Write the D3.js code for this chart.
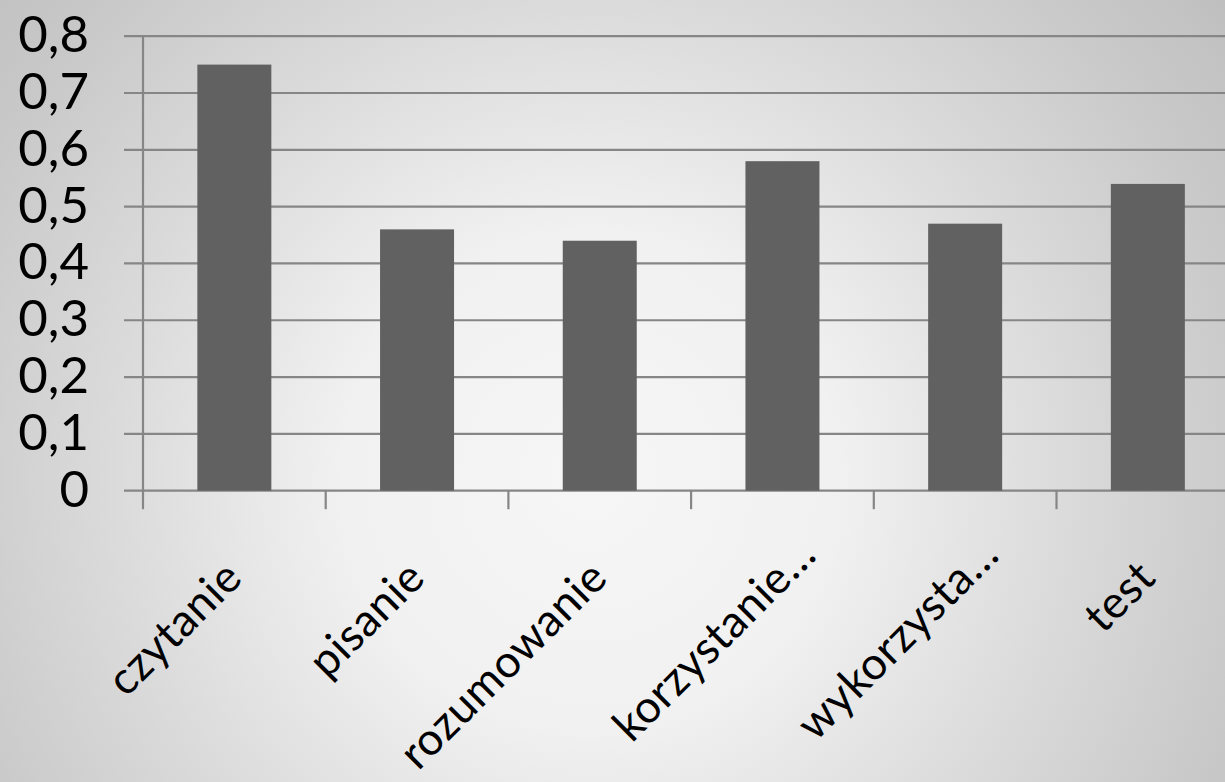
<!DOCTYPE html>
<html><head><meta charset="utf-8">
<script src="https://cdn.jsdelivr.net/npm/d3@7"></script>
<style>html,body{margin:0;padding:0;overflow:hidden;background:#fff;}</style>
</head><body>
<svg id="chart" width="1225" height="782"></svg>
<script>
const categories = ["czytanie", "pisanie", "rozumowanie", "korzystanie…", "wykorzysta…", "test"];
const values = [0.75, 0.46, 0.44, 0.58, 0.47, 0.54];
const yTicks = [0, 0.1, 0.2, 0.3, 0.4, 0.5, 0.6, 0.7, 0.8];
const yTickLabels = ["0", "0,1", "0,2", "0,3", "0,4", "0,5", "0,6", "0,7", "0,8"];

const W = 1225, H = 782;
const svg = d3.select("#chart");
const FONT = "'Comic Sans MS', Lato, 'Open Sans', sans-serif";

// background radial gradient
const defs = svg.append("defs");
const grad = defs.append("radialGradient").attr("id", "bg")
  .attr("gradientUnits", "userSpaceOnUse")
  .attr("cx", 590).attr("cy", 480).attr("r", 820);
[[0, "#f6f6f6"], [0.3, "#f1f1f1"], [0.59, "#dadada"], [0.83, "#c8c8c8"], [0.92, "#c3c3c3"], [1, "#bcbcbc"]]
  .forEach(([o, c]) => grad.append("stop").attr("offset", o).attr("stop-color", c));
svg.append("rect").attr("width", W).attr("height", H).attr("fill", "url(#bg)");

const plotLeft = 143, step = 182.7;
const x = d3.scaleBand().domain(categories)
  .range([plotLeft, plotLeft + categories.length * step])
  .paddingInner(0.595).paddingOuter(0.2975);
const y = d3.scaleLinear().domain([0, 0.8]).range([490.7, 36.2]);

const gridColor = "#868686";

// horizontal gridlines (with left tick extension)
svg.append("g").selectAll("line").data(yTicks).join("line")
  .attr("x1", plotLeft - 19).attr("x2", W + 5)
  .attr("y1", d => y(d)).attr("y2", d => y(d))
  .attr("stroke", gridColor).attr("stroke-width", 2.2);

// y axis line
svg.append("line").attr("x1", plotLeft).attr("x2", plotLeft)
  .attr("y1", y(0.8)).attr("y2", y(0))
  .attr("stroke", gridColor).attr("stroke-width", 2.2);

// x category boundary ticks
svg.append("g").selectAll("line").data(d3.range(categories.length + 1)).join("line")
  .attr("x1", i => plotLeft + i * x.step()).attr("x2", i => plotLeft + i * x.step())
  .attr("y1", y(0)).attr("y2", y(0) + 18.5)
  .attr("stroke", gridColor).attr("stroke-width", 2.2);

// bars
svg.append("g").selectAll("rect").data(values).join("rect")
  .attr("x", (d, i) => x(categories[i]))
  .attr("width", x.bandwidth())
  .attr("y", d => y(d))
  .attr("height", d => y(0) - y(d))
  .attr("fill", "#616161");

// y labels
svg.append("g").selectAll("text").data(yTicks).join("text")
  .attr("x", 89).attr("y", d => y(d) - 3.5)
  .attr("text-anchor", "end").attr("dominant-baseline", "central")
  .attr("font-family", FONT).attr("font-size", 51).attr("fill", "#000")
  .text((d, i) => yTickLabels[i]);

// x labels rotated
svg.append("g").selectAll("text").data(categories).join("text")
  .attr("transform", d => {
    const cx = x(d) + x.bandwidth() / 2;
    const trunc = d.endsWith("…");
    const ax = cx + (trunc ? 36 : 10);
    const ay = trunc ? 557 : 580;
    return `translate(${ax},${ay}) rotate(-45)`;
  })
  .attr("text-anchor", "end")
  .attr("font-family", FONT).attr("font-size", 45).attr("letter-spacing", 0.5).attr("fill", "#000")
  .text(d => d);
</script>
</body></html>
